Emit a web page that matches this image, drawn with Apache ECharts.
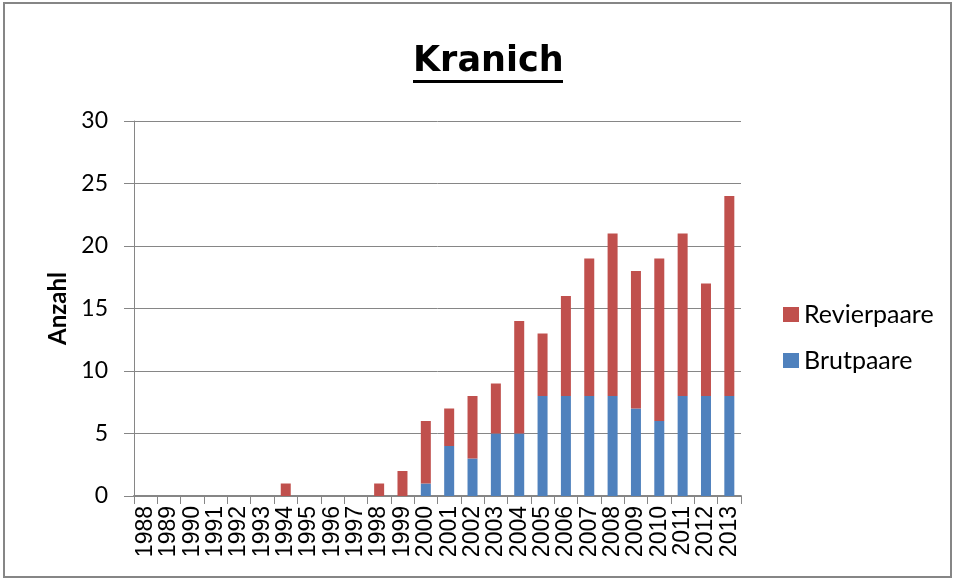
<!DOCTYPE html>
<html>
<head>
<meta charset="utf-8">
<script src="https://cdn.jsdelivr.net/npm/echarts@6/dist/echarts.min.js"></script>
<style>
  html, body { margin: 0; padding: 0; background: #fff; }
  #chart { width: 957px; height: 581px; }
</style>
</head>
<body>
<div id="chart"></div>
<script>
const years = ['1988', '1989', '1990', '1991', '1992', '1993', '1994', '1995', '1996', '1997', '1998', '1999', '2000',
  '2001', '2002', '2003', '2004', '2005', '2006', '2007', '2008', '2009', '2010', '2011', '2012', '2013']
const brutpaare = [0, 0, 0, 0, 0, 0, 0, 0, 0, 0, 0, 0, 1, 4, 3, 5, 5, 8, 8, 8, 8, 7, 6, 8, 8, 8]
const revierpaare = [0, 0, 0, 0, 0, 0, 1, 0, 0, 0, 1, 2, 5, 3, 5, 4, 9, 5, 8, 11, 13, 11, 13, 13, 9, 16]

const chart = echarts.init(document.getElementById('chart'))
const font = 'Lato, "Open Sans", sans-serif'

chart.setOption({
  animation: false,
  backgroundColor: '#fff',
  title: {
    text: 'Kranich',
    left: 413,
    top: 44,
    padding: 0,
    textStyle: {fontFamily: '"DejaVu Sans", sans-serif', fontSize: 35, fontWeight: 'bold', color: '#000'}
  },
  graphic: [
    // chart border
    {type: 'rect', shape: {x: 4, y: 3, width: 947, height: 574},
      style: {fill: 'none', stroke: '#868686', lineWidth: 2}, silent: true},
    // title underline
    {type: 'rect', shape: {x: 413, y: 80, width: 150, height: 3},
      style: {fill: '#000'}, silent: true}
  ],
  legend: {
    orient: 'vertical',
    left: 783,
    top: 302,
    padding: 0,
    itemWidth: 16,
    itemHeight: 15,
    itemGap: 21,
    icon: 'rect',
    data: ['Revierpaare', 'Brutpaare'],
    textStyle: {fontFamily: font, fontSize: 25, lineHeight: 25, color: '#000'}
  },
  grid: {left: 134, right: 216, top: 121, bottom: 85},
  xAxis: {
    type: 'category',
    data: years,
    axisLine: {lineStyle: {color: '#868686', width: 2}},
    axisTick: {show: true, length: 8, lineStyle: {color: '#868686', width: 1}},
    axisLabel: {
      interval: 0,
      rotate: 90,
      margin: 10,
      fontFamily: '"Liberation Sans", sans-serif',
      fontSize: 23,
      color: '#000'
    }
  },
  yAxis: {
    type: 'value',
    min: 0,
    max: 30,
    interval: 5,
    name: 'Anzahl',
    nameLocation: 'middle',
    nameGap: 63,
    nameTextStyle: {fontFamily: font, fontSize: 24, fontWeight: 'bold', color: '#000'},
    axisLine: {show: true, lineStyle: {color: '#868686'}},
    axisTick: {show: true, length: 10, lineStyle: {color: '#868686'}},
    axisLabel: {fontFamily: font, fontSize: 23, color: '#000', margin: 26},
    splitLine: {lineStyle: {color: '#868686', width: 1}}
  },
  series: [
    {
      name: 'Brutpaare',
      type: 'bar',
      stack: 'total',
      barWidth: 10,
      data: brutpaare,
      itemStyle: {color: '#4F81BD'}
    },
    {
      name: 'Revierpaare',
      type: 'bar',
      stack: 'total',
      barWidth: 10,
      data: revierpaare,
      itemStyle: {color: '#C0504D'}
    }
  ]
})
</script>
</body>
</html>
